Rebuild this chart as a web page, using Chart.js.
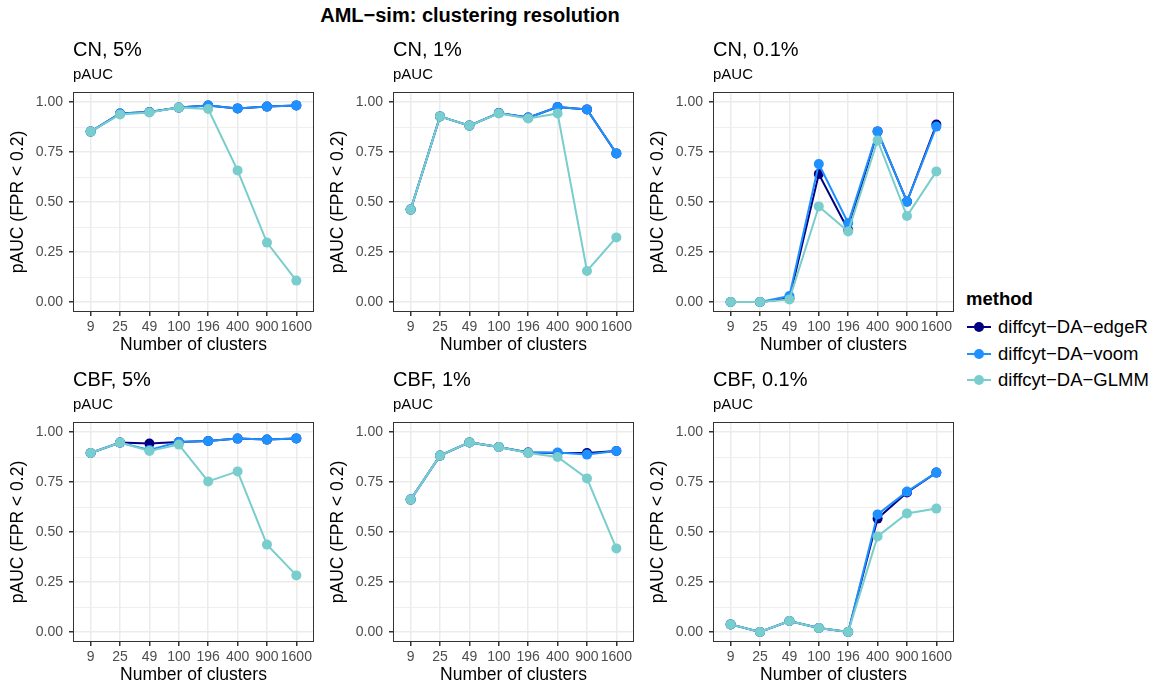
<!DOCTYPE html>
<html>
<head>
<meta charset="utf-8">
<script src="https://cdn.jsdelivr.net/npm/chart.js@4/dist/chart.umd.min.js"></script>
<style>
  html, body { margin: 0; padding: 0; background: #fff; }
  #wrap { position: relative; width: 1161px; height: 691px; font-family: "Liberation Sans", Arial, sans-serif; }
  #wrap canvas { position: absolute; }
  #title { position: absolute; left: 0; width: 940px; top: 4px; text-align: center; font-weight: bold; font-size: 20px; }
  #legend { position: absolute; left: 966px; top: 288px; }
  #legend .head { font-weight: bold; font-size: 18.5px; height: 26px; }
  #legend .item { display: flex; align-items: center; height: 26.5px; font-size: 18.5px; }
  #legend svg { margin-right: 6px; }
</style>
</head>
<body>
<div id="wrap">
  <div id="title">AML−sim: clustering resolution</div>
  <canvas id="p0" width="320" height="330" style="left:0;top:30px"></canvas>
  <canvas id="p1" width="320" height="330" style="left:320px;top:30px"></canvas>
  <canvas id="p2" width="320" height="330" style="left:640px;top:30px"></canvas>
  <canvas id="p3" width="320" height="330" style="left:0;top:360px"></canvas>
  <canvas id="p4" width="320" height="330" style="left:320px;top:360px"></canvas>
  <canvas id="p5" width="320" height="330" style="left:640px;top:360px"></canvas>
  <div id="legend"></div>
</div>
<script>
// x categories and panel titles
const clusterLabels = ['9', '25', '49', '100', '196', '400', '900', '1600'];
const panelTitles = ['CN, 5%', 'CN, 1%', 'CN, 0.1%', 'CBF, 5%', 'CBF, 1%', 'CBF, 0.1%'];
const methods = ['diffcyt−DA−edgeR', 'diffcyt−DA−voom', 'diffcyt−DA−GLMM'];
const methodColors = ['#000080', '#1E90FF', '#79CDCD'];
const yTicks = [0, 0.25, 0.5, 0.75, 1];

// pAUC values
const cn5_edgeR = [0.852, 0.942, 0.950, 0.972, 0.982, 0.968, 0.977, 0.983];
const cn5_voom  = [0.852, 0.942, 0.950, 0.972, 0.982, 0.968, 0.977, 0.983];
const cn5_glmm  = [0.852, 0.938, 0.948, 0.972, 0.965, 0.658, 0.297, 0.107];

const cn1_edgeR = [0.462, 0.928, 0.882, 0.945, 0.922, 0.975, 0.963, 0.743];
const cn1_voom  = [0.462, 0.928, 0.882, 0.945, 0.922, 0.975, 0.963, 0.743];
const cn1_glmm  = [0.462, 0.928, 0.882, 0.943, 0.918, 0.943, 0.155, 0.323];

const cn01_edgeR = [0, 0, 0.017, 0.640, 0.360, 0.853, 0.502, 0.887];
const cn01_voom  = [0, 0, 0.030, 0.690, 0.395, 0.853, 0.502, 0.877];
const cn01_glmm  = [0, 0, 0.013, 0.478, 0.353, 0.808, 0.430, 0.653];

const cbf5_edgeR = [0.895, 0.947, 0.942, 0.950, 0.955, 0.967, 0.962, 0.968];
const cbf5_voom  = [0.895, 0.947, 0.910, 0.950, 0.955, 0.967, 0.962, 0.968];
const cbf5_glmm  = [0.895, 0.947, 0.905, 0.937, 0.753, 0.803, 0.437, 0.283];

const cbf1_edgeR = [0.662, 0.882, 0.948, 0.925, 0.897, 0.895, 0.895, 0.905];
const cbf1_voom  = [0.662, 0.882, 0.948, 0.925, 0.897, 0.897, 0.887, 0.905];
const cbf1_glmm  = [0.662, 0.882, 0.948, 0.925, 0.895, 0.875, 0.768, 0.418];

const cbf01_edgeR = [0.038, 0, 0.055, 0.020, 0, 0.567, 0.698, 0.797];
const cbf01_voom  = [0.038, 0, 0.055, 0.020, 0, 0.588, 0.702, 0.797];
const cbf01_glmm  = [0.038, 0, 0.055, 0.020, 0, 0.478, 0.593, 0.617];

const panelData = [
  [cn5_edgeR, cn5_voom, cn5_glmm],
  [cn1_edgeR, cn1_voom, cn1_glmm],
  [cn01_edgeR, cn01_voom, cn01_glmm],
  [cbf5_edgeR, cbf5_voom, cbf5_glmm],
  [cbf1_edgeR, cbf1_voom, cbf1_glmm],
  [cbf01_edgeR, cbf01_voom, cbf01_glmm],
];

const FONT = '"Liberation Sans", Arial, sans-serif';

// panel title, "pAUC" subtitle and the box round the panel
const panelDecor = {
  id: 'panelDecor',
  afterDraw(chart, args, opts) {
    const { ctx, chartArea: a } = chart;
    ctx.save();
    ctx.strokeStyle = '#333333';
    ctx.lineWidth = 1;
    ctx.strokeRect(a.left + 0.5, a.top + 0.5, a.right - a.left - 1, a.bottom - a.top - 1);
    ctx.fillStyle = '#000';
    ctx.textBaseline = 'alphabetic';
    ctx.textAlign = 'left';
    ctx.font = '20px ' + FONT;
    ctx.fillText(opts.title, a.left, 26);
    ctx.font = '15px ' + FONT;
    ctx.fillText('pAUC', a.left, 49);
    ctx.restore();
  }
};

function isMajor(v) {
  return yTicks.some(t => Math.abs(t - v) < 1e-9);
}

panelData.forEach((series, p) => {
  const datasets = series.map((vals, m) => ({
    label: methods[m],
    data: vals.map((v, i) => ({ x: i, y: v })),
    borderColor: methodColors[m],
    backgroundColor: methodColors[m],
    borderWidth: 2,
    pointRadius: 5,
    pointBorderWidth: 0,
    pointHoverRadius: 5,
    order: 2 - m,
    clip: false,
  }));

  new Chart(document.getElementById('p' + p), {
    type: 'line',
    data: { datasets },
    options: {
      responsive: false,
      animation: false,
      events: [],
      layout: { padding: { left: 0, top: 62, right: 6, bottom: 0 } },
      plugins: {
        legend: { display: false },
        tooltip: { enabled: false },
        panelDecor: { title: panelTitles[p] },
      },
      scales: {
        x: {
          type: 'linear',
          min: -0.6,
          max: 7.6,
          afterBuildTicks: (s) => { s.ticks = clusterLabels.map((_, i) => ({ value: i })); },
          afterFit: (s) => { s.height = 48; },
          ticks: {
            autoSkip: false,
            maxRotation: 0,
            padding: 3,
            color: '#4D4D4D',
            font: { family: FONT, size: 14 },
            callback: (v) => clusterLabels[v],
          },
          grid: { color: '#EBEBEB', lineWidth: 1.5, tickColor: '#333333', tickLength: 4 },
          border: { display: false },
          title: {
            display: true,
            text: 'Number of clusters',
            color: '#000',
            font: { family: FONT, size: 17.5 },
            padding: { top: 0, bottom: 4 },
          },
        },
        y: {
          min: -0.05,
          max: 1.05,
          afterBuildTicks: (s) => {
            const t = [];
            for (let k = 0; k <= 8; k++) t.push({ value: k / 8 });
            s.ticks = t;
          },
          afterFit: (s) => { s.width = 73; },
          ticks: {
            autoSkip: false,
            padding: 6,
            color: '#4D4D4D',
            font: { family: FONT, size: 14 },
            callback: (v) => isMajor(v) ? v.toFixed(2) : '',
          },
          grid: {
            color: '#EBEBEB',
            lineWidth: (c) => isMajor(c.tick.value) ? 1.5 : 0.8,
            tickColor: (c) => isMajor(c.tick.value) ? '#333333' : 'rgba(0,0,0,0)',
            tickLength: 4,
          },
          border: { display: false },
          title: {
            display: true,
            text: 'pAUC (FPR < 0.2)',
            color: '#000',
            font: { family: FONT, size: 17.5 },
            padding: { top: 8, bottom: 0 },
          },
        },
      },
    },
    plugins: [panelDecor],
  });
});

// legend
const legend = document.getElementById('legend');
legend.innerHTML = '<div class="head">method</div>' + methods.map((m, i) =>
  '<div class="item"><svg width="26" height="14"><line x1="1" y1="7" x2="25" y2="7" stroke="' +
  methodColors[i] + '" stroke-width="2"/><circle cx="13" cy="7" r="5" fill="' + methodColors[i] +
  '"/></svg>' + m + '</div>').join('');
</script>
</body>
</html>
